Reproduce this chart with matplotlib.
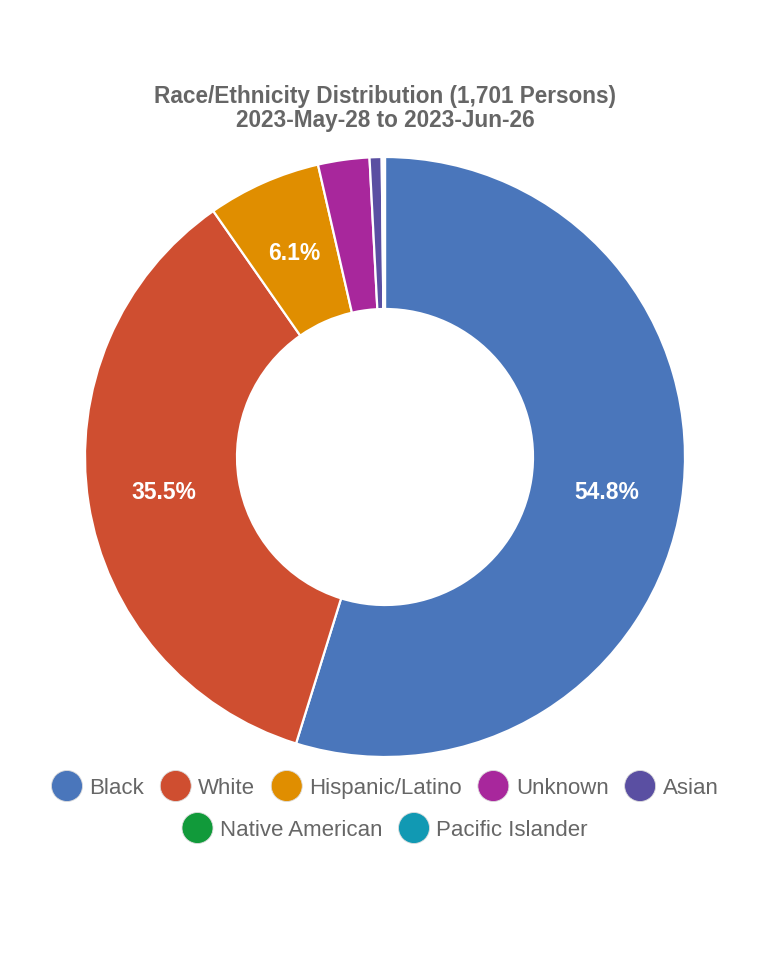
import matplotlib
matplotlib.use("Agg")
import matplotlib.pyplot as plt
from matplotlib.patches import Circle
import numpy as np

# data
categories = ["Black", "White", "Hispanic/Latino", "Unknown", "Asian",
              "Native American", "Pacific Islander"]
counts = [932, 604, 104, 47, 11, 1, 2]
colors = ["#4a76bb", "#cf4e30", "#e08e00", "#a8279c", "#5a4fa2",
          "#119a3a", "#1199b3"]
title = "Race/Ethnicity Distribution (1,701 Persons)\n2023-May-28 to 2023-Jun-26"

W, H = 770, 964
plt.rcParams['font.family'] = ['Liberation Sans', 'DejaVu Sans']

fig = plt.figure(figsize=(W / 100, H / 100), dpi=100)
ax = fig.add_axes([0, 0, 1, 1])

cx, cy = 385, H - 457
r_out, r_in = 300, 148

wedges, _ = ax.pie(counts, colors=colors, startangle=90, counterclock=False,
                   radius=r_out, center=(cx, cy),
                   wedgeprops=dict(width=r_out - r_in, edgecolor="white",
                                   linewidth=1.6))

# percentage labels on the larger slices
total = sum(counts)
r_mid = (r_out + r_in) / 2
for w, c in zip(wedges, counts):
    pct = c / total * 100
    if pct < 5:
        continue
    ang = np.deg2rad((w.theta1 + w.theta2) / 2)
    ax.text(cx + r_mid * np.cos(ang), cy + r_mid * np.sin(ang) - 8,
            f"{pct:.1f}%", color="white", fontsize=16.5, fontweight="bold",
            ha="center", va="baseline")

ax.set_xlim(0, W)
ax.set_ylim(0, H)
ax.set_aspect("auto")
ax.axis("off")

ax.text(W / 2, H - 96, title.split("\n")[0], ha="center", va="center",
        fontsize=16.3, fontweight="bold", color="#666666")
ax.text(W / 2, H - 120, title.split("\n")[1], ha="center", va="center",
        fontsize=16.3, fontweight="bold", color="#666666")

# legend, drawn by hand so rows are centred like the original
fig.canvas.draw()
renderer = fig.canvas.get_renderer()
rows = [range(0, 5), range(5, 7)]
row_y = [H - 786, H - 828]
box_d, gap, spacing = 31, 7, 16
for idx, y in zip(rows, row_y):
    items = []
    for i in idx:
        t = ax.text(0, y - 8, categories[i], fontsize=16, color="#666666",
                    ha="left", va="baseline")
        wpx = t.get_window_extent(renderer).width
        items.append((i, t, wpx))
    total_w = sum(box_d + gap + wpx for _, _, wpx in items) + spacing * (len(items) - 1)
    x = W / 2 - total_w / 2
    for i, t, wpx in items:
        ax.add_patch(Circle((x + box_d / 2, y), box_d / 2, facecolor=colors[i],
                            edgecolor="#dddddd", linewidth=0.6))
        t.set_x(x + box_d + gap)
        x += box_d + gap + wpx + spacing

fig.savefig("out.png", dpi=100)
